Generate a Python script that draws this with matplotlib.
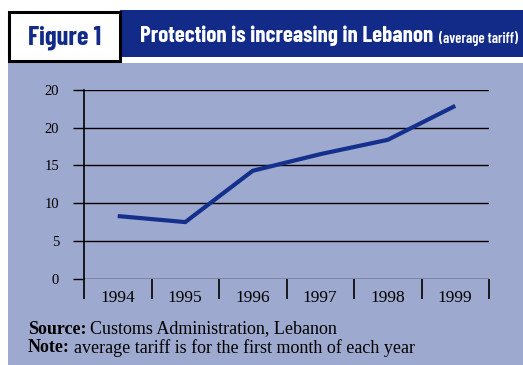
import matplotlib.pyplot as plt
from matplotlib.patches import Rectangle

# ==========================================
# Data
# ==========================================

years = ["1994", "1995", "1996", "1997", "1998", "1999"]
tariff = [8.3, 7.5, 14.3, 16.5, 18.4, 22.9]

y_ticks = [0, 5, 10, 15, 20, 25]
y_tick_labels = ["0", "5", "10", "15", "20", "20"]

# ==========================================
# Style
# ==========================================

W, H = 523, 365
panel = "#9DA9CE"
navy = "#132B88"
line_col = "#14308C"
serif = ["Liberation Serif", "DejaVu Serif"]
narrow = ["Barlow Condensed", "DejaVu Sans"]

fig = plt.figure(figsize=(W / 100, H / 100), dpi=100)
fig.patch.set_facecolor("white")


def fx(px):
    return px / W


def fy(py):
    return 1 - py / H


# background panel
fig.patches.append(Rectangle(
    (fx(8), 0), fx(W - 8), fy(63),
    transform=fig.transFigure, facecolor=panel,
    edgecolor="none", zorder=0
))

# header bar
fig.patches.append(Rectangle(
    (fx(120), fy(57)), fx(W - 120), (57 - 10) / H,
    transform=fig.transFigure, facecolor=navy,
    edgecolor="none", zorder=1
))

# "Figure 1" box
fig.patches.append(Rectangle(
    (fx(9), fy(61)), fx(111), (61 - 12) / H,
    transform=fig.transFigure, facecolor="white",
    edgecolor="black", linewidth=2.2, zorder=2
))

fig.text(
    fx(65), fy(38), "Figure 1",
    family=narrow, fontweight="bold", fontsize=19,
    color=navy, ha="center", va="center"
)

fig.text(
    fx(140), fy(36), "Protection is increasing in Lebanon",
    family=narrow, fontweight="bold", fontsize=16.5,
    color="white", ha="left", va="center"
)

fig.text(
    fx(439), fy(38.5), "(average tariff)",
    family=narrow, fontweight="semibold", fontsize=10.5,
    color="white", ha="left", va="center"
)

# ==========================================
# Chart
# ==========================================

ax = fig.add_axes([
    fx(84), fy(278.7), fx(489 - 84), (278.7 - 90) / H
])
ax.set_facecolor("none")
ax.set_zorder(5)

x = list(range(len(years)))

ax.plot(
    x, tariff,
    color=line_col, linewidth=3, solid_capstyle="butt",
    zorder=3
)

ax.set_xlim(-0.5, len(years) - 0.5)
ax.set_ylim(0, 25)

ax.set_yticks(y_ticks)
ax.set_yticklabels(y_tick_labels, family=serif, fontsize=10.5)
ax.yaxis.grid(True, color="black", linewidth=1.0)
ax.set_axisbelow(True)

ax.set_xticks(x)
ax.set_xticklabels(years, family=serif, fontsize=12.5)
ax.set_xticks([i - 0.5 for i in range(len(years) + 1)], minor=True)

ax.tick_params(axis="y", length=8, width=1.0, pad=10, colors="black")
ax.tick_params(axis="x", which="major", length=0, pad=8)
ax.tick_params(axis="x", which="minor", length=14.5, width=1.2,
               color="black")

for side in ["top", "right", "bottom"]:
    ax.spines[side].set_visible(False)
ax.spines["left"].set_linewidth(1.2)

# ==========================================
# Notes (bold label, then plain text right after it)
# ==========================================

notes = [
    ("Source:", "Customs Administration, Lebanon", 329),
    ("Note:", "average tariff is for the first month of each year", 348),
]

renderer = fig.canvas.get_renderer()

for label, body, ypx in notes:
    t = fig.text(fx(28), fy(ypx), label, family=serif, fontweight="bold",
                 fontsize=13, va="center")
    right = t.get_window_extent(renderer).x1
    fig.text(right / W + fx(4), fy(ypx), body, family=serif,
             fontsize=13, va="center")

fig.savefig("out.png", dpi=100, facecolor=fig.get_facecolor())
